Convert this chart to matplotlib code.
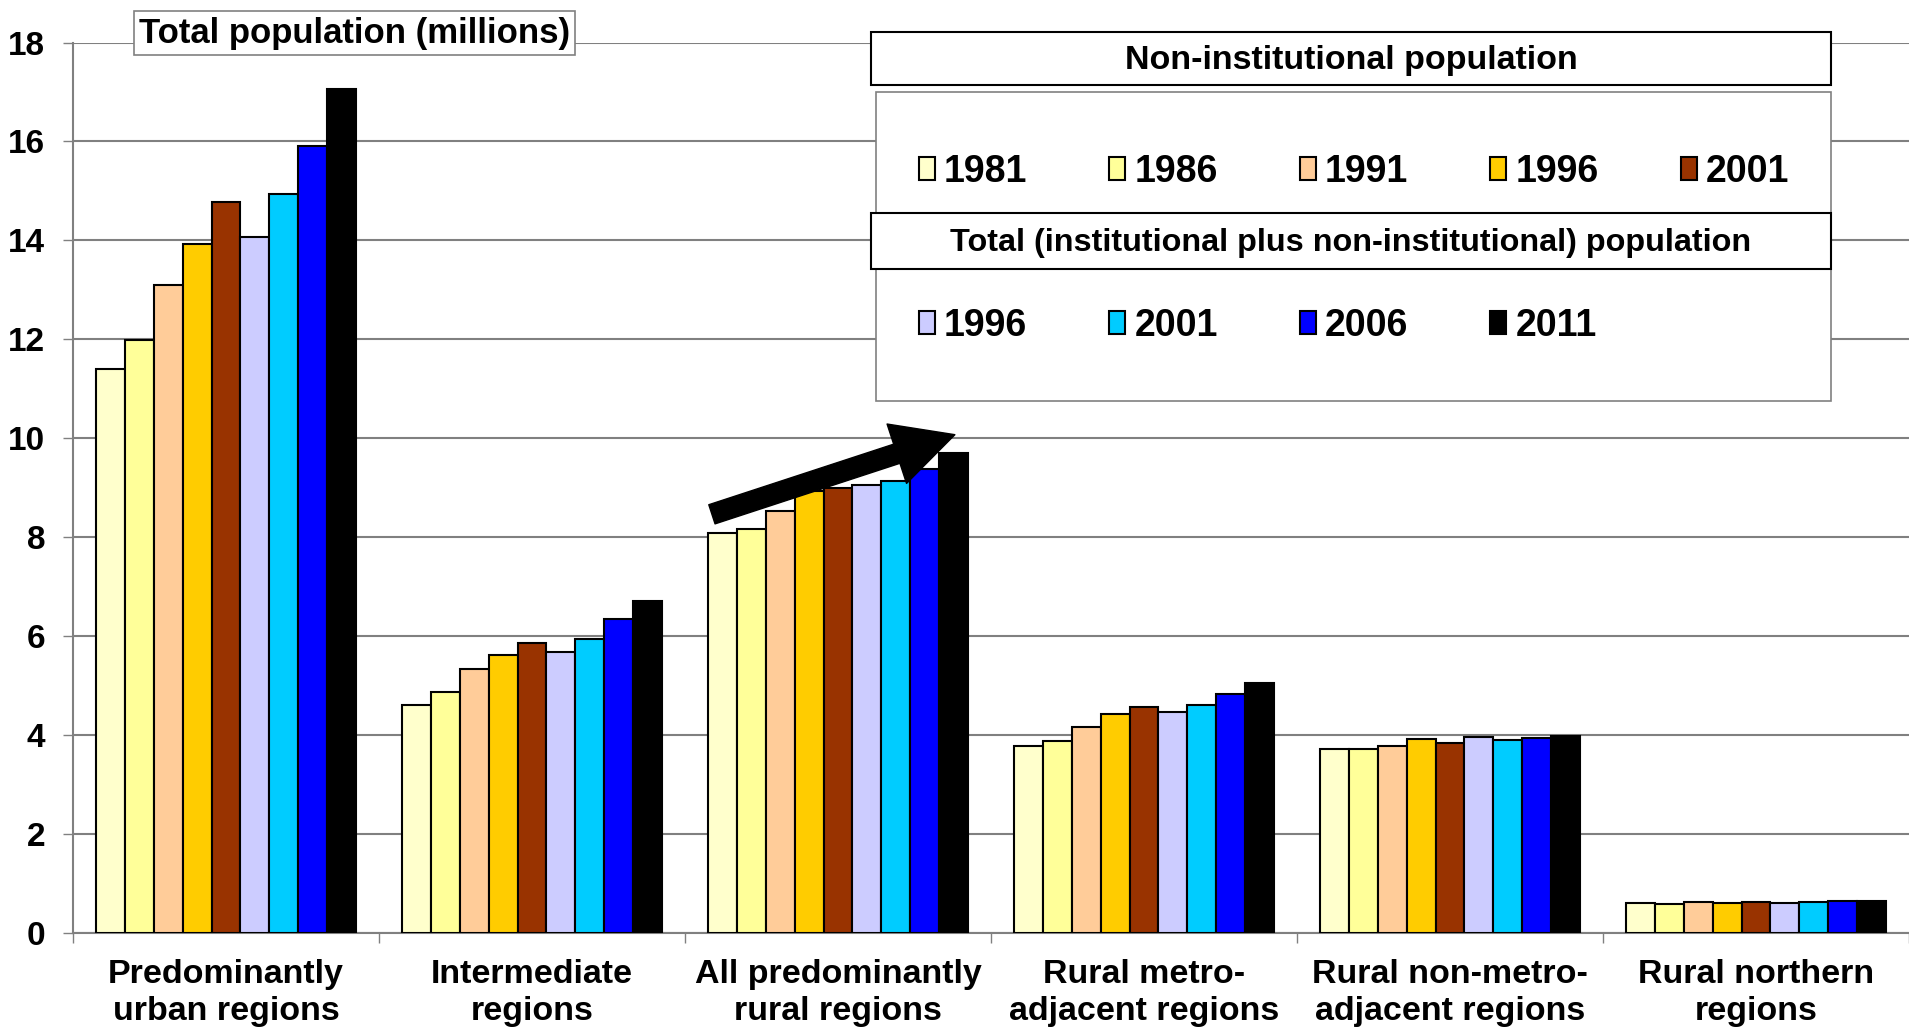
import matplotlib
matplotlib.use('Agg')
import matplotlib.pyplot as plt
from matplotlib.patches import Rectangle, Patch
import numpy as np

plt.rcParams['font.family'] = ['Liberation Sans', 'DejaVu Sans']
plt.rcParams['font.weight'] = 'bold'

REGIONS = ['Predominantly\nurban regions', 'Intermediate\nregions', 'All predominantly\nrural regions',
           'Rural metro-\nadjacent regions', 'Rural non-metro-\nadjacent regions', 'Rural northern\nregions']

# non-institutional population (millions)
non_inst_1981 = [11.39, 4.60, 8.09, 3.78, 3.72, 0.59]
non_inst_1986 = [11.99, 4.86, 8.17, 3.88, 3.72, 0.58]
non_inst_1991 = [13.10, 5.34, 8.53, 4.15, 3.78, 0.61]
non_inst_1996 = [13.93, 5.62, 8.93, 4.42, 3.91, 0.60]
non_inst_2001 = [14.78, 5.86, 9.00, 4.56, 3.84, 0.61]
# total (institutional plus non-institutional) population (millions)
total_1996 = [14.07, 5.68, 9.05, 4.47, 3.96, 0.60]
total_2001 = [14.94, 5.93, 9.13, 4.61, 3.90, 0.62]
total_2006 = [15.91, 6.34, 9.38, 4.83, 3.93, 0.63]
total_2011 = [17.06, 6.70, 9.69, 5.05, 3.97, 0.64]

NON_INST_YEARS = ['1981', '1986', '1991', '1996', '2001']
TOTAL_YEARS = ['1996', '2001', '2006', '2011']
NON_INST_COLORS = ['#FFFFCC', '#FFFF99', '#FFCC99', '#FFCC00', '#993300']
TOTAL_COLORS = ['#CCCCFF', '#00CCFF', '#0000FF', '#000000']

series = [non_inst_1981, non_inst_1986, non_inst_1991, non_inst_1996, non_inst_2001,
          total_1996, total_2001, total_2006, total_2011]
colors = NON_INST_COLORS + TOTAL_COLORS

W, H, DPI = 1909, 1030, 100
fig = plt.figure(figsize=(W / DPI, H / DPI), dpi=DPI)
left = 73 / W
ax = fig.add_axes([left, 1 - 932.6 / H, 1 - left, (932.6 - 42.6) / H])

group_px = 307.6
bar_w = 0.0945
x = np.arange(len(REGIONS))
for j, (vals, c) in enumerate(zip(series, colors)):
    ax.bar(x + (j - 4) * bar_w, vals, width=bar_w, color=c, edgecolor='black', linewidth=1.5, zorder=3)

ax.set_ylim(0, 18)
ax.set_xlim(-0.5, -0.5 + (W - 73) / group_px)
ax.set_yticks(range(0, 19, 2))
ax.yaxis.grid(True, color='#808080', linewidth=1.5, zorder=0)
ax.set_axisbelow(True)
ax.tick_params(axis='y', labelsize=24, length=7, width=1, color='#808080', pad=13)

# group separators as major ticks, region names on minor ticks
ax.set_xticks(np.arange(-0.5, len(REGIONS), 1.0))
ax.set_xticklabels([])
ax.set_xticks(x, minor=True)
ax.set_xticklabels(REGIONS, minor=True, fontsize=24.5, fontweight='bold', linespacing=1.27)
ax.tick_params(axis='x', which='major', length=7, width=1, color='#808080')
ax.tick_params(axis='x', which='minor', length=0, pad=19)
for lab in ax.get_yticklabels():
    lab.set_fontweight('bold')

ax.spines['top'].set_visible(False)
ax.spines['right'].set_visible(False)
ax.spines['left'].set_color('#808080')
ax.spines['bottom'].set_color('#808080')
ax.spines['left'].set_linewidth(1.5)
ax.spines['bottom'].set_linewidth(1.5)

# growth arrow over the rural group
ax.annotate('', xy=(2.382, 10.07), xytext=(1.588, 8.46),
            arrowprops=dict(arrowstyle='simple,head_length=4.4,head_width=4.5,tail_width=1.45',
                            fc='black', ec='black', mutation_scale=10, shrinkA=0, shrinkB=0),
            zorder=5, annotation_clip=False)

fig.text(354.5 / W, 1 - 33 / H, 'Total population (millions)', ha='center', va='center',
         fontsize=25, fontweight='bold',
         bbox=dict(boxstyle='square,pad=0.15', fc='white', ec='#808080', lw=1.2))


def fig_rect(x0, y0, x1, y1, ec, lw):
    fig.add_artist(Rectangle((x0 / W, 1 - y1 / H), (x1 - x0) / W, (y1 - y0) / H,
                             transform=fig.transFigure, fc='white', ec=ec, lw=lw, zorder=2))


fig_rect(876, 92, 1831, 401, '#808080', 1.2)
fig_rect(871, 32, 1831, 85, 'black', 1.5)
fig_rect(871, 213, 1831, 269, 'black', 1.5)
fig.text(1351 / W, 1 - 61 / H, 'Non-institutional population', ha='center', va='center',
         fontsize=24.5, fontweight='bold', zorder=3)
fig.text(1351 / W, 1 - 243 / H, 'Total (institutional plus non-institutional) population',
         ha='center', va='center', fontsize=23.3, fontweight='bold', zorder=3)

fs_leg = 27
em = fs_leg * DPI / 72
col_step = 190.5
text_w = 2.224 * em
hl, htp = 16 / em, 9 / em
cs = (col_step - 16 - 9 - text_w) / em


def year_legend(years, cols, y_px):
    handles = [Patch(fc=c, ec='black', lw=1.5) for c in cols]
    leg = fig.legend(handles, years, loc='center left', bbox_to_anchor=(919 / W, 1 - y_px / H),
                     ncol=5, frameon=False, borderpad=0, borderaxespad=0,
                     handlelength=hl, handleheight=0.55, handletextpad=htp, columnspacing=cs,
                     prop={'size': fs_leg, 'weight': 'bold'})
    leg.set_zorder(4)
    return leg


year_legend(NON_INST_YEARS, NON_INST_COLORS, 172)
year_legend(TOTAL_YEARS, TOTAL_COLORS, 326)

fig.savefig('out.png', dpi=DPI)
